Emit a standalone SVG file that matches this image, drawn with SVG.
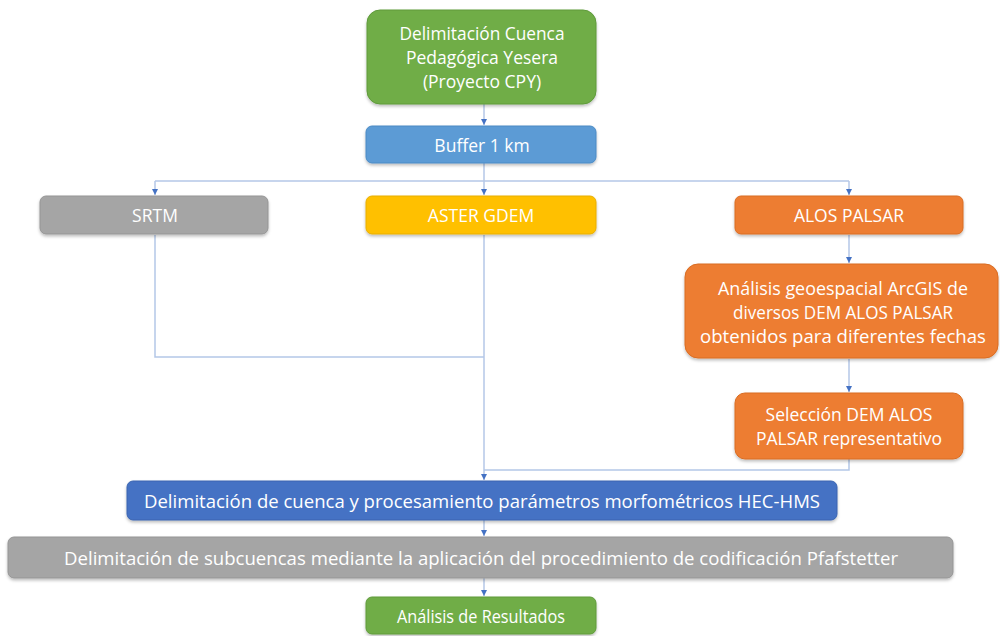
<svg xmlns="http://www.w3.org/2000/svg" width="1000" height="636" viewBox="0 0 1000 636">
<defs>
<marker id="ah" viewBox="0 0 10 10" refX="10" refY="5" markerWidth="6" markerHeight="6" orient="auto" markerUnits="userSpaceOnUse">
<path d="M0,0 L10,5 L0,10 z" fill="#4472c4"/>
</marker>
<filter id="sh" x="-5%" y="-10%" width="110%" height="130%">
<feDropShadow dx="0" dy="2" stdDeviation="1.5" flood-color="#000" flood-opacity="0.25"/>
</filter>
</defs>
<style>
rect{filter:url(#sh);stroke-width:1}
.green{fill:#70ad47;stroke:#5e9a3a}
.blue{fill:#5b9bd5;stroke:#4a8ac4}
.gray{fill:#a5a5a5;stroke:#959595}
.yellow{fill:#ffc000;stroke:#e8ae00}
.orange{fill:#ed7d31;stroke:#d96c22}
.dblue{fill:#4472c4;stroke:#3a64b0}
text{font-family:"Open Sans","Liberation Sans",sans-serif;font-size:17.5px;fill:#fff;text-anchor:middle;dominant-baseline:central}
.c line,.c polyline{stroke:#b4c7e7;stroke-width:1.5;fill:none}
</style>
<rect width="1000" height="636" fill="#fff" style="filter:none;stroke:none"/>
<g class="c" id="connectors">
<line x1="484" y1="104" x2="484" y2="125" marker-end="url(#ah)"/>
<line x1="484" y1="163" x2="484" y2="181"/>
<line x1="155" y1="181" x2="849" y2="181"/>
<line x1="155" y1="181" x2="155" y2="195" marker-end="url(#ah)"/>
<line x1="484" y1="181" x2="484" y2="195" marker-end="url(#ah)"/>
<line x1="849" y1="181" x2="849" y2="195" marker-end="url(#ah)"/>
<polyline points="155,235 155,357 484,357"/>
<line x1="484" y1="235" x2="484" y2="480" marker-end="url(#ah)"/>
<line x1="849" y1="235" x2="849" y2="263" marker-end="url(#ah)"/>
<line x1="849" y1="359" x2="849" y2="392" marker-end="url(#ah)"/>
<polyline points="849,459 849,470 484,470"/>
<line x1="484" y1="520" x2="484" y2="536" marker-end="url(#ah)"/>
<line x1="484" y1="578" x2="484" y2="596" marker-end="url(#ah)"/>
</g>
<g id="n1"><rect class="green" x="367" y="10" width="229" height="94" rx="13"/>
<text x="482" y="33" textLength="165" lengthAdjust="spacingAndGlyphs">Delimitación Cuenca</text><text x="482" y="57">Pedagógica Yesera</text><text x="482" y="81">(Proyecto CPY)</text></g>
<g id="n2"><rect class="blue" x="366" y="126" width="230" height="37" rx="6"/>
<text x="482" y="145">Buffer 1 km</text></g>
<g id="n3"><rect class="gray" x="40" y="196" width="228" height="38" rx="6"/>
<text x="155" y="215">SRTM</text></g>
<g id="n4"><rect class="yellow" x="366" y="196" width="230" height="38" rx="6"/>
<text x="481" y="215">ASTER GDEM</text></g>
<g id="n5"><rect class="orange" x="735" y="196" width="228" height="38" rx="6"/>
<text x="849" y="215">ALOS PALSAR</text></g>
<g id="n6"><rect class="orange" x="685" y="264" width="313" height="94" rx="13"/>
<text x="843" y="288" textLength="250" lengthAdjust="spacingAndGlyphs">Análisis geoespacial ArcGIS de</text><text x="843" y="312" textLength="220" lengthAdjust="spacingAndGlyphs">diversos DEM ALOS PALSAR</text><text x="843" y="336" textLength="286" lengthAdjust="spacingAndGlyphs">obtenidos para diferentes fechas</text></g>
<g id="n7"><rect class="orange" x="735" y="393" width="228" height="66" rx="10"/>
<text x="849" y="414">Selección DEM ALOS</text><text x="849" y="438">PALSAR representativo</text></g>
<g id="n8"><rect class="dblue" x="127" y="481" width="710" height="39" rx="6"/>
<text x="482" y="501" textLength="676" lengthAdjust="spacingAndGlyphs">Delimitación de cuenca y procesamiento parámetros morfométricos HEC-HMS</text></g>
<g id="n9"><rect class="gray" x="8" y="537" width="945" height="41" rx="6"/>
<text x="481" y="558" textLength="834" lengthAdjust="spacingAndGlyphs">Delimitación de subcuencas mediante la aplicación del procedimiento de codificación Pfafstetter</text></g>
<g id="n10"><rect class="green" x="366" y="597" width="230" height="37" rx="6"/>
<text x="481" y="616" textLength="168" lengthAdjust="spacingAndGlyphs">Análisis de Resultados</text></g>
</svg>
